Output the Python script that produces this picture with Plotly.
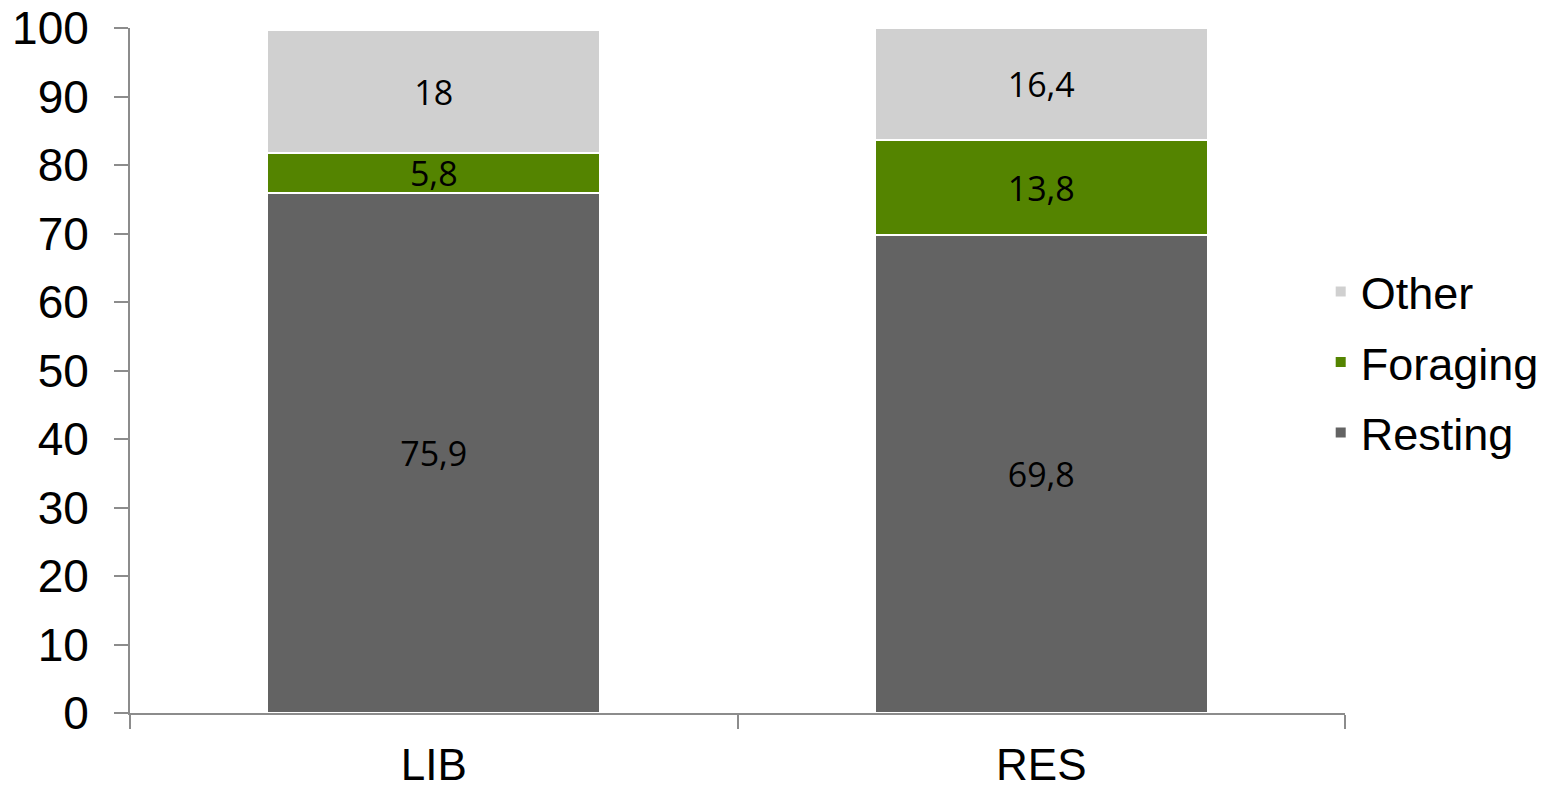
import plotly.graph_objects as go

categories = ["LIB", "RES"]
resting = [75.9, 69.8]
foraging = [5.8, 13.8]
other = [18.0, 16.4]
series_names = ["Resting", "Foraging", "Other"]
series_colors = ["#636363", "#548400", "#d0d0d0"]
legend_ranks = [3, 2, 1]
y_ticks = [0, 10, 20, 30, 40, 50, 60, 70, 80, 90, 100]


def fmt(v):
    s = f"{v:g}"
    return s.replace(".", ",")


fig = go.Figure()
for name, vals, col, rank in zip(series_names, [resting, foraging, other], series_colors, legend_ranks):
    fig.add_trace(go.Bar(
        x=categories, y=vals, name=name,
        marker=dict(color=col, line=dict(color="white", width=2)),
        text=[fmt(v) for v in vals],
        textposition="inside", insidetextanchor="middle",
        constraintext="none",
        textfont=dict(family="Open Sans", size=34, color="black"),
        legendgroup=name, legendrank=rank,
        hoverinfo="skip",
    ))

fig.update_layout(
    barmode="stack",
    bargap=0.452,
    width=1556, height=790,
    margin=dict(l=130, r=211, t=28, b=77),
    paper_bgcolor="white", plot_bgcolor="white",
    font=dict(family="Liberation Sans, Arial", size=46, color="black"),
    showlegend=True,
    legend=dict(
        x=0.98, xanchor="left", y=0.512, yanchor="middle",
        traceorder="grouped", tracegroupgap=9,
        font=dict(family="Liberation Sans, Arial", size=45, color="black"),
        bgcolor="rgba(0,0,0,0)",
    ),
)
fig.update_yaxes(
    range=[0, 100], tickvals=y_ticks, showgrid=False,
    showline=True, linecolor="#8c8c8c", linewidth=2,
    ticks="outside", ticklen=14, tickcolor="#8c8c8c", tickwidth=2,
    zeroline=False, tickfont=dict(size=46), automargin=False,
    ticklabelstandoff=16,
)
fig.update_xaxes(
    showline=True, linecolor="#8c8c8c", linewidth=2,
    ticks="outside", ticklen=14, tickcolor="#8c8c8c", tickwidth=2,
    tickson="boundaries", showgrid=False, tickfont=dict(size=44),
    automargin=False, ticklabelstandoff=12,
)

fig.write_html("out.html")
